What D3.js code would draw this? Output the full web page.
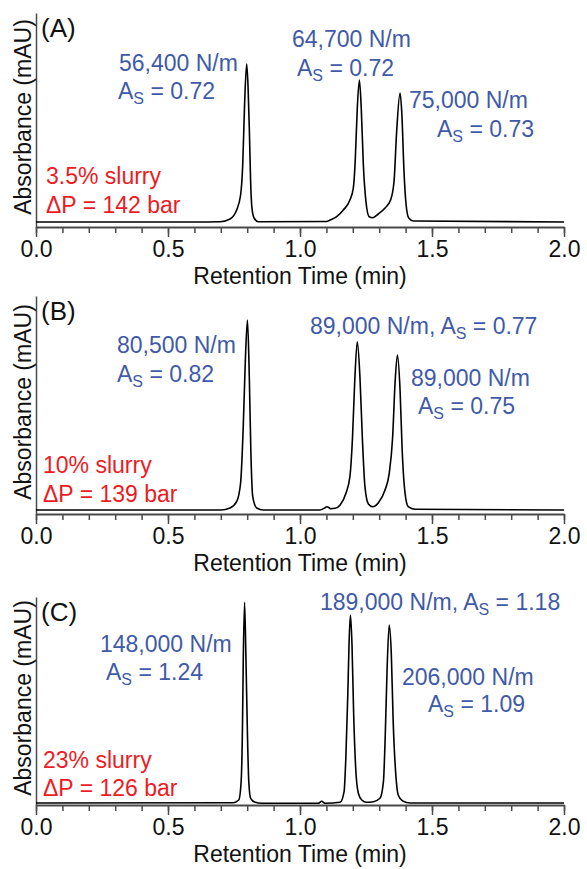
<!DOCTYPE html>
<html>
<head>
<meta charset="utf-8">
<script src="https://cdn.jsdelivr.net/npm/d3@7"></script>
<style>
  body { margin: 0; background: #fff; }
  text { font-family: "Liberation Sans", Arial, sans-serif; }
</style>
</head>
<body>
<div id="vis"></div>
<script>
// chromatogram traces (time in min, absorbance in arbitrary mAU)
const timeA = [0, 0.60, 0.697, 0.735, 0.760, 0.775, 0.783, 0.790, 0.798, 0.803, 0.808, 0.813, 0.818, 0.826, 0.842,
    1.101, 1.114, 1.139, 1.164, 1.189, 1.202, 1.209, 1.217, 1.225, 1.232, 1.240, 1.250, 1.262, 1.275,
    1.297, 1.322, 1.343, 1.356, 1.366, 1.379, 1.386, 1.394, 1.402, 1.412, 1.429, 2.0];
const absA = [5, 5, 5.3, 8, 17, 32, 62, 122, 163, 142, 99, 45, 19, 9, 5.3,
    5.5, 7, 10.3, 17, 27, 39, 65, 119, 147, 119, 62, 25, 10.3, 9.3,
    13, 19, 27, 45, 95, 134, 112, 55, 22, 9, 6, 5];

const timeB = [0, 0.70, 0.735, 0.760, 0.775, 0.785, 0.793, 0.801, 0.808, 0.814, 0.821, 0.836, 0.861,
    1.076, 1.095, 1.103, 1.116, 1.133, 1.152, 1.174, 1.189, 1.199, 1.207, 1.217, 1.227, 1.236, 1.246, 1.259, 1.275,
    1.297, 1.322, 1.338, 1.351, 1.360, 1.369, 1.379, 1.387, 1.398, 1.410, 1.436, 2.0];
const absB = [4, 4, 6, 12.3, 31, 87, 154, 194, 137, 61, 17.3, 6, 4,
    4, 6.3, 7.3, 5.3, 5.7, 9, 20.7, 37.3, 77.3, 130.7, 172.3, 137.3, 77.3, 27.3, 10, 7.3,
    11.3, 24, 40.7, 77.3, 130.7, 159, 124, 64, 20.7, 7.3, 4.7, 4];

const timeC = [0, 0.747, 0.768, 0.777, 0.782, 0.785, 0.790, 0.795, 0.801, 0.806, 0.813, 0.830, 0.855,
    1.069, 1.082, 1.095, 1.152, 1.167, 1.174, 1.181, 1.186, 1.191, 1.197, 1.203, 1.211, 1.221, 1.234, 1.252,
    1.278, 1.303, 1.316, 1.323, 1.330, 1.338, 1.346, 1.353, 1.363, 1.372, 1.389, 1.417, 2.0];
const absC = [2, 2.3, 5, 23.3, 76.7, 143.3, 202.7, 150, 70, 23.3, 6.7, 2.7, 1.7,
    1.7, 3.7, 1.7, 2.7, 13.3, 50, 110, 163.3, 190, 160, 93.3, 36.7, 11.7, 5, 2.7,
    3.3, 6.7, 23.3, 70, 136.7, 180, 150, 83.3, 30, 10, 4, 2, 2];

const yMax = [214, 218, 208];
const xTicks = [0, 0.5, 1.0, 1.5, 2.0];
const xTickLabels = ["0.0", "0.5", "1.0", "1.5", "2.0"];

const panelNames = ["(A)", "(B)", "(C)"];
const slurry = ["3.5% slurry", "10% slurry", "23% slurry"];
const pressure = ["\u0394P = 142 bar", "\u0394P = 139 bar", "\u0394P = 126 bar"];
const plates = [
    ["56,400 N/m", "64,700 N/m", "75,000 N/m"],
    ["80,500 N/m", "89,000 N/m", "89,000 N/m"],
    ["148,000 N/m", "189,000 N/m", "206,000 N/m"]
];
const asym = [
    ["0.72", "0.72", "0.73"],
    ["0.82", "0.77", "0.75"],
    ["1.24", "1.18", "1.09"]
];

// layout
const W = 587, H = 869;
const blue = "#3f5aa8", red = "#ed1c24", axisColor = "#4a4a4a";
const fs = 23;
const panelTop = [13, 296, 597];
const panelAxis = [227, 514, 805];
const titleOffset = [57, 57, 57];
// per peak: [x, baseline] of plate line, [x, baseline] of As line (null = same line)
const peakLabelPos = [
    [[119, 71, 118, 99], [292, 47, 297, 76], [409, 108, 437, 137]],
    [[117, 353, 117, 382], [310, 334, null, null], [411, 386, 418, 414]],
    [[100, 652, 106, 680], [320, 610, null, null], [402, 685, 428, 712]]
];
const condPos = [[46, 184, 213], [43, 473, 502], [43, 768, 796]];
const traces = [[timeA, absA], [timeB, absB], [timeC, absC]];

const svg = d3.select("#vis")
    .append("svg")
    .attr("width", W)
    .attr("height", H);

const xScale = d3.scaleLinear().domain([0, 2]).range([36, 564]);

function asText(sel, value) {
    sel.append("tspan").text("A");
    sel.append("tspan").text("S").attr("font-size", 16).attr("dy", 5);
    sel.append("tspan").text(" = " + value).attr("dy", -5);
}

traces.forEach((tr, i) => {
    const g = svg.append("g");
    const top = panelTop[i], base = panelAxis[i];
    const yScale = d3.scaleLinear().domain([0, yMax[i]]).range([base, top]);

    // y axis: bare line
    g.append("g")
        .attr("transform", `translate(${xScale(0)},0)`)
        .call(d3.axisLeft(yScale).tickValues([]).tickSizeOuter(0))
        .call(a => a.select(".domain").attr("stroke", axisColor).attr("stroke-width", 1.5));

    // x axis minor ticks
    g.append("g")
        .attr("transform", `translate(0,${base})`)
        .call(d3.axisBottom(xScale).ticks(20).tickSize(6).tickSizeOuter(0).tickFormat(""))
        .call(a => a.select(".domain").attr("stroke", axisColor).attr("stroke-width", 2))
        .call(a => a.selectAll(".tick line").attr("stroke", axisColor).attr("stroke-width", 1.5));

    // x axis major ticks + labels
    g.append("g")
        .attr("transform", `translate(0,${base})`)
        .call(d3.axisBottom(xScale).tickValues(xTicks).tickSize(10).tickSizeOuter(0).tickPadding(4)
            .tickFormat((d, j) => xTickLabels[j]))
        .call(a => a.select(".domain").remove())
        .call(a => a.selectAll(".tick line").attr("stroke", axisColor).attr("stroke-width", 1.5))
        .call(a => a.selectAll(".tick text")
            .attr("font-family", "Liberation Sans, Arial, sans-serif")
            .attr("font-size", fs).attr("fill", "#111"));

    g.append("text")
        .attr("x", xScale(1))
        .attr("y", base + titleOffset[i])
        .attr("text-anchor", "middle")
        .attr("font-size", fs)
        .attr("fill", "#111")
        .text("Retention Time (min)");

    g.append("text")
        .attr("transform", `translate(31,${(top + base) / 2 - 3}) rotate(-90)`)
        .attr("text-anchor", "middle")
        .attr("font-size", fs)
        .attr("fill", "#111")
        .text("Absorbance (mAU)");

    // trace
    const pts = tr[0].map((t, k) => [t, tr[1][k]]);
    g.append("path")
        .datum(pts)
        .attr("fill", "none")
        .attr("stroke", "#000")
        .attr("stroke-width", 1.6)
        .attr("d", d3.line()
            .x(d => xScale(d[0]))
            .y(d => yScale(d[1]))
            .curve(d3.curveMonotoneX));

    g.append("text")
        .attr("x", 41)
        .attr("y", top + 24)
        .attr("font-size", 26)
        .attr("fill", "#111")
        .text(panelNames[i]);

    // slurry / pressure
    const c = condPos[i];
    g.append("text").attr("x", c[0]).attr("y", c[1]).attr("font-size", fs).attr("fill", red).text(slurry[i]);
    g.append("text").attr("x", c[0]).attr("y", c[2]).attr("font-size", fs).attr("fill", red).text(pressure[i]);

    // peak labels
    peakLabelPos[i].forEach((p, k) => {
        const t1 = g.append("text")
            .attr("x", p[0]).attr("y", p[1])
            .attr("font-size", fs).attr("fill", blue);
        if (p[2] === null) {
            t1.append("tspan").text(plates[i][k] + ", ");
            asText(t1, asym[i][k]);
        } else {
            t1.text(plates[i][k]);
            const t2 = g.append("text")
                .attr("x", p[2]).attr("y", p[3])
                .attr("font-size", fs).attr("fill", blue);
            asText(t2, asym[i][k]);
        }
    });
});
</script>
</body>
</html>
